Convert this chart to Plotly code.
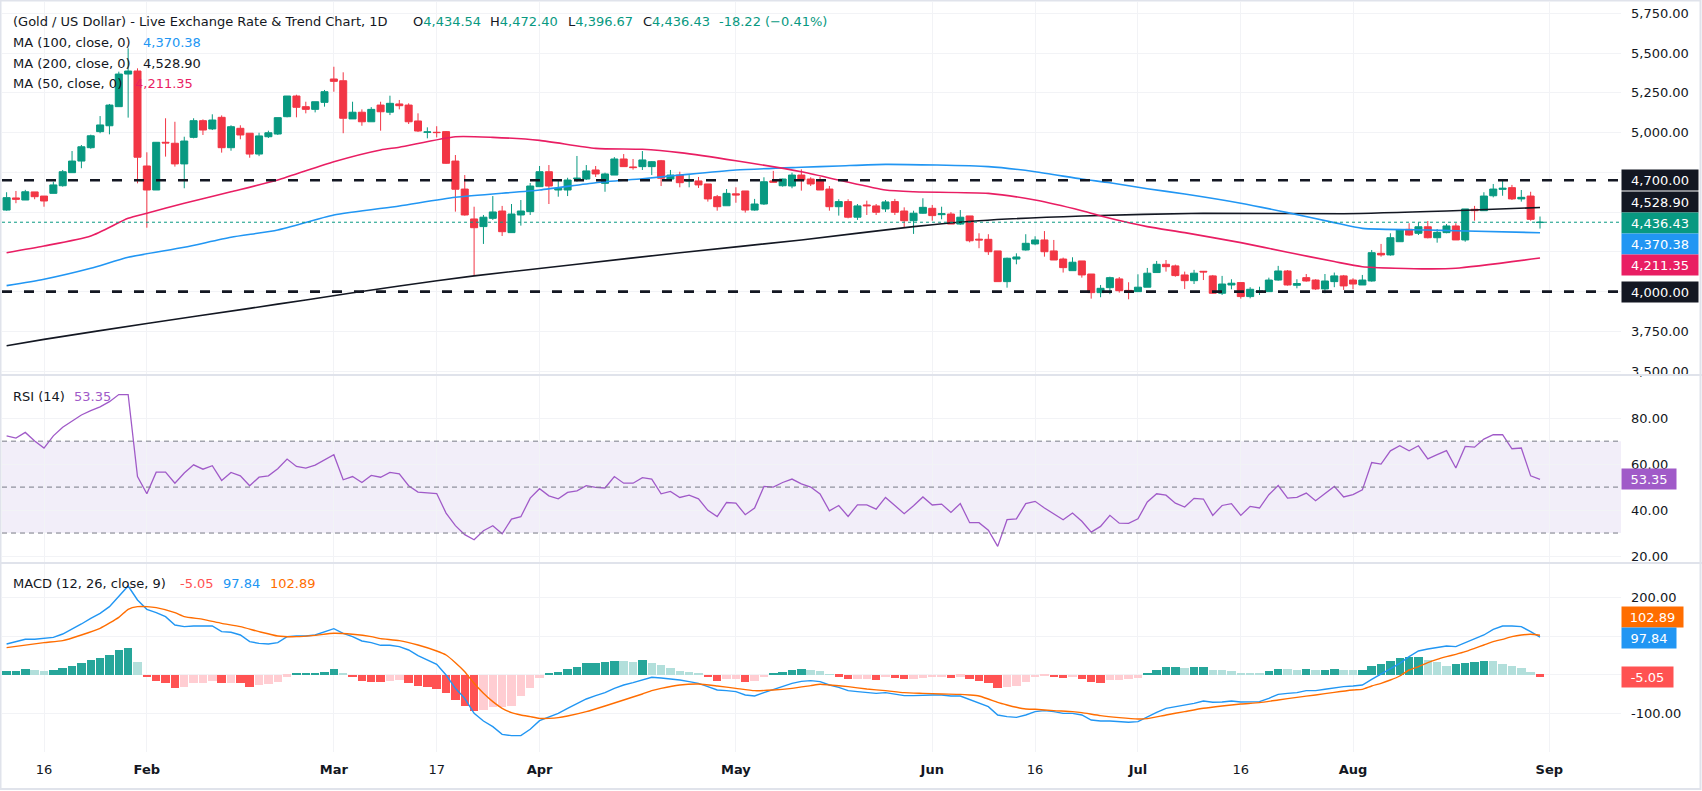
import pandas as pd
import plotly.graph_objects as go

# ---------------- categories (daily bars, 2026) ----------------
_b = pd.bdate_range("2026-01-12", "2026-08-31")
_b = _b[_b != pd.Timestamp("2026-04-03")]          # Good Friday, no bar
dates = [d.strftime("%Y-%m-%d") for d in _b]
future_dates = ["2026-09-01", "2026-09-02", "2026-09-03", "2026-09-04",
                "2026-09-07", "2026-09-08", "2026-09-09", "2026-09-10"]

tick_dates = ["2026-01-16", "2026-02-02", "2026-03-02", "2026-03-17", "2026-04-01",
              "2026-05-01", "2026-06-01", "2026-06-16", "2026-07-01", "2026-07-16",
              "2026-08-03", "2026-09-01"]
tick_text = ["16", "<b>Feb</b>", "<b>Mar</b>", "17", "<b>Apr</b>", "<b>May</b>",
             "<b>Jun</b>", "16", "<b>Jul</b>", "16", "<b>Aug</b>", "<b>Sep</b>"]

price_ticks = [3500, 3750, 4000, 4250, 4500, 4750, 5000, 5250, 5500, 5750]
price_tick_text = ["3,500.00", "3,750.00", "", "", "", "", "5,000.00", "5,250.00", "5,500.00", "5,750.00"]
rsi_ticks = [20, 40, 60, 80]
rsi_tick_text = ["20.00", "40.00", "60.00", "80.00"]
macd_ticks = [-100, 0, 100, 200]
macd_tick_text = ["-100.00", "", "", "200.00"]

# ---------------- OHLC ----------------
open_ = [4513, 4589, 4576, 4627, 4601,
         4618, 4666, 4748, 4821, 4905, 5006, 5043, 5163, 5368, 5387,
         4790, 4639, 4939, 4933, 4803, 4970, 5075, 5023, 5096, 4905,
         5027, 4996, 4865, 4974, 4991, 5100, 5230, 5163, 5146, 5190,
         5337, 5326, 5086, 5128, 5068, 5173, 5128, 5180, 5173, 5073,
         5002, 5002, 5006, 4821, 4645, 4457, 4409, 4461, 4507, 4371,
         4482, 4503, 4660, 4754, 4639, 4639, 4710, 4708, 4765, 4681,
         4733, 4834, 4784, 4786, 4786, 4823, 4708, 4733, 4695, 4696,
         4677, 4597, 4540, 4615, 4633, 4513, 4551, 4696, 4666, 4664,
         4733, 4708, 4698, 4645, 4534, 4566, 4468, 4545, 4539, 4520,
         4566, 4507, 4446, 4493, 4524, 4484, 4488, 4425, 4476, 4330,
         4329, 4256, 4063, 4205, 4262, 4300, 4325, 4256, 4205, 4132,
         4193, 4111, 3994, 4025, 4080, 4008, 4000, 4028, 4120, 4172,
         4162, 4105, 4069, 4128, 4099, 3990, 4042, 4057, 3969, 3996,
         4000, 4073, 4130, 4040, 4088, 4073, 4017, 4063, 4099, 4073,
         4042, 4067, 4241, 4231, 4314, 4392, 4367, 4408, 4339, 4371,
         4413, 4325, 4518, 4509, 4603, 4643, 4654, 4583, 4601, 4434.54]
high = [4625, 4633, 4640, 4627, 4601,
        4691, 4765, 4884, 4922, 4987, 5104, 5180, 5383, 5530, 5404,
        4876, 4939, 5090, 5068, 4974, 5090, 5083, 5115, 5108, 5046,
        5046, 4996, 4999, 5012, 5094, 5230, 5238, 5194, 5194, 5268,
        5414, 5379, 5194, 5146, 5160, 5194, 5232, 5205, 5184, 5121,
        5033, 5040, 5010, 4859, 4733, 4534, 4482, 4601, 4539, 4551,
        4576, 4683, 4790, 4796, 4702, 4716, 4853, 4796, 4790, 4748,
        4846, 4865, 4834, 4884, 4821, 4828, 4765, 4754, 4733, 4721,
        4677, 4608, 4645, 4656, 4633, 4583, 4719, 4759, 4710, 4748,
        4769, 4719, 4721, 4664, 4581, 4581, 4551, 4572, 4551, 4576,
        4583, 4530, 4509, 4587, 4545, 4534, 4500, 4513, 4476, 4367,
        4361, 4256, 4214, 4241, 4361, 4348, 4381, 4325, 4214, 4216,
        4193, 4111, 4042, 4094, 4092, 4059, 4109, 4149, 4193, 4199,
        4170, 4126, 4137, 4130, 4105, 4099, 4078, 4057, 4028, 4031,
        4088, 4162, 4136, 4078, 4111, 4078, 4111, 4120, 4105, 4084,
        4105, 4262, 4300, 4367, 4388, 4430, 4436, 4444, 4394, 4425,
        4430, 4520, 4539, 4625, 4677, 4696, 4671, 4639, 4628, 4472.40]
low = [4509, 4556, 4576, 4581, 4534,
       4618, 4660, 4748, 4776, 4898, 4996, 4989, 5163, 5094, 4681,
       4402, 4639, 4849, 4786, 4650, 4964, 4985, 5016, 4874, 4886,
       4958, 4842, 4852, 4966, 4985, 5096, 5096, 5121, 5127, 5163,
       5257, 4996, 5086, 5043, 5068, 5012, 5110, 5146, 5054, 5004,
       4964, 4970, 4803, 4503, 4478, 4099, 4300, 4451, 4350, 4371,
       4415, 4482, 4660, 4551, 4597, 4601, 4691, 4702, 4721, 4628,
       4733, 4786, 4767, 4765, 4733, 4664, 4708, 4656, 4656, 4652,
       4566, 4509, 4540, 4559, 4497, 4509, 4545, 4688, 4660, 4650,
       4635, 4664, 4639, 4509, 4478, 4461, 4451, 4482, 4482, 4501,
       4482, 4402, 4363, 4490, 4446, 4455, 4425, 4420, 4310, 4273,
       4231, 4063, 4025, 4172, 4258, 4292, 4220, 4199, 4120, 4132,
       4088, 3956, 3965, 3984, 3994, 3952, 4000, 4028, 4120, 4126,
       4094, 4017, 4048, 4073, 3987, 3979, 4015, 3956, 3958, 3979,
       4000, 4069, 4038, 4021, 4063, 4011, 3990, 4028, 4011, 4015,
       4042, 4063, 4220, 4226, 4314, 4352, 4356, 4335, 4308, 4367,
       4325, 4314, 4446, 4509, 4593, 4603, 4576, 4566, 4446, 4396.67]
close = [4591, 4581, 4628, 4597, 4570,
         4671, 4754, 4821, 4911, 4980, 5048, 5173, 5368, 5387, 4845,
         4639, 4939, 4935, 4803, 4947, 5075, 5016, 5079, 4905, 5037,
         4985, 4865, 4979, 4999, 5094, 5230, 5159, 5146, 5194, 5257,
         5322, 5090, 5128, 5068, 5146, 5131, 5184, 5169, 5068, 5010,
         5004, 5000, 4807, 4644, 4482, 4402, 4468, 4501, 4377, 4488,
         4507, 4664, 4754, 4664, 4650, 4702, 4713, 4759, 4740, 4740,
         4834, 4786, 4780, 4828, 4817, 4713, 4733, 4685, 4700, 4671,
         4583, 4534, 4618, 4608, 4513, 4551, 4691, 4688, 4708, 4733,
         4702, 4677, 4639, 4534, 4566, 4468, 4539, 4540, 4499, 4564,
         4499, 4446, 4493, 4530, 4478, 4490, 4425, 4468, 4320, 4325,
         4251, 4063, 4210, 4218, 4304, 4325, 4251, 4199, 4151, 4185,
         4105, 3994, 4021, 4088, 4006, 4004, 4028, 4116, 4172, 4157,
         4101, 4069, 4116, 4124, 3990, 4048, 4053, 3969, 4015, 4004,
         4073, 4130, 4042, 4051, 4067, 4017, 4067, 4099, 4036, 4048,
         4073, 4245, 4231, 4339, 4388, 4356, 4408, 4339, 4373, 4413,
         4325, 4520, 4509, 4601, 4645, 4650, 4583, 4593, 4454.65, 4436.43]

# ---------------- moving averages (read at sampled bars; bar offset k, first bar k=-4) ----------------
ma50_k = [-4, 0, 5, 9, 11, 15, 20, 25, 31, 36, 38, 44, 48, 53, 59, 64, 68, 74, 81, 85,
          90, 93, 101, 106, 111, 114, 118, 122, 128, 133, 138, 141, 148, 151, 160]
ma50_v = [4245, 4287, 4350, 4461, 4493, 4556, 4628, 4702, 4817, 4891, 4908, 4974, 4970,
          4951, 4901, 4895, 4874, 4823, 4754, 4702, 4639, 4628, 4618, 4576, 4509, 4461,
          4409, 4371, 4308, 4248, 4189, 4157, 4143, 4147, 4211.35]
ma100_k = [-4, 0, 5, 9, 15, 20, 25, 31, 38, 44, 53, 59, 64, 68, 74, 81, 85, 90, 101, 106,
           111, 114, 118, 122, 128, 133, 138, 141, 148, 151, 160]
ma100_v = [4038, 4078, 4147, 4216, 4279, 4342, 4388, 4482, 4539, 4593, 4639, 4685, 4710,
           4733, 4765, 4782, 4790, 4800, 4786, 4754, 4708, 4685, 4647, 4614, 4556, 4497,
           4434, 4398, 4388, 4383, 4370.38]
ma200_k = [-4, 0, 11, 22, 28, 38, 46, 57, 68, 81, 93, 100, 111, 124, 139, 150, 160]
ma200_v = [3660, 3700, 3800, 3895, 3948, 4036, 4099, 4172, 4245, 4325, 4409, 4446, 4476,
           4493, 4490, 4507, 4528.90]

# ---------------- RSI (14) ----------------
rsi = [72.3, 71.3, 73.8, 70.1, 67.0,
       72.3, 76.1, 78.8, 81.4, 83.3, 84.9, 87.2, 90.3, 90.3, 54.6,
       47.1, 56.5, 56.5, 51.7, 56.1, 59.7, 57.8, 59.3, 52.9, 56.4,
       54.9, 50.6, 54.3, 54.9, 58.0, 62.2, 59.0, 58.3, 59.6, 61.9,
       64.1, 53.2, 54.6, 52.0, 55.1, 54.3, 56.4, 55.8, 50.6, 47.8,
       47.4, 47.2, 38.7, 33.2, 29.3, 27.1, 31.0, 33.2, 29.7, 36.1,
       37.1, 45.2, 49.3, 46.2, 44.9, 47.7, 48.4, 50.6, 49.9, 49.6,
       54.6, 51.7, 51.7, 54.1, 53.5, 47.1, 48.1, 45.5, 46.5, 44.9,
       39.9, 37.2, 43.3, 43.0, 38.0, 40.9, 50.3, 50.0, 52.0, 53.5,
       51.4, 50.0, 47.0, 39.7, 42.0, 37.2, 42.3, 42.3, 40.4, 45.5,
       42.0, 38.4, 41.9, 45.7, 42.2, 42.6, 39.0, 42.8, 34.5, 34.5,
       31.2, 24.2, 35.8, 36.2, 42.8, 43.8, 40.9, 38.3, 35.8, 38.7,
       35.1, 30.4, 32.9, 37.7, 34.3, 34.2, 36.2, 43.5, 47.1, 46.5,
       43.0, 41.3, 45.1, 44.8, 37.7, 42.0, 42.8, 37.7, 41.6, 40.9,
       46.7, 50.7, 45.2, 45.5, 47.4, 44.1, 47.4, 50.3, 45.7, 46.7,
       48.8, 60.7, 60.0, 65.8, 68.0, 65.8, 68.0, 62.3, 64.1, 65.9,
       58.3, 67.7, 67.4, 70.9, 72.8, 72.8, 66.7, 67.0, 54.9, 53.35]

# ---------------- MACD (12, 26, close, 9) ----------------
macd = [80.1, 86.1, 92.2, 92.2, 93.9,
        97.3, 105.9, 118.0, 131.8, 146.4, 159.3, 176.6, 202.4, 230.0, 193.8,
        169.7, 161.1, 150.7, 129.2, 124.9, 126.6, 126.6, 126.6, 112.0, 110.3,
        103.4, 86.1, 81.8, 80.1, 83.5, 99.1, 100.8, 100.8, 103.4, 112.0,
        119.7, 107.7, 99.1, 87.9, 83.5, 76.7, 76.7, 73.2, 64.6, 50.0,
        38.8, 27.6, 0.0, -34.5, -60.3, -99.1, -118.9, -133.5, -153.3, -156.8,
        -156.8, -140.4, -118.0, -109.4, -99.1, -86.1, -73.2, -62.0, -53.4, -45.6,
        -34.5, -25.8, -19.8, -12.9, -6.0, -7.8, -9.5, -12.9, -17.2, -21.5,
        -30.1, -38.8, -40.5, -43.1, -51.7, -54.3, -45.6, -37.0, -28.4, -21.5,
        -16.4, -14.6, -17.2, -25.8, -31.9, -40.5, -43.1, -44.8, -47.4, -45.6,
        -49.1, -53.4, -53.4, -51.7, -51.7, -51.7, -54.3, -54.3, -62.9, -71.5,
        -81.8, -103.4, -107.7, -109.4, -103.4, -94.7, -92.2, -94.7, -99.1, -99.1,
        -103.4, -116.3, -118.9, -118.9, -120.6, -122.3, -120.6, -107.7, -96.5, -86.1,
        -81.8, -79.2, -73.2, -67.2, -70.6, -69.8, -67.2, -69.8, -69.8, -68.9,
        -60.3, -50.0, -47.4, -45.6, -40.5, -40.5, -37.0, -32.7, -30.1, -28.4,
        -25.8, -11.2, 2.6, 15.5, 30.1, 47.4, 62.0, 67.2, 70.6, 74.9,
        73.2, 83.5, 92.2, 103.4, 118.0, 126.6, 126.6, 124.9, 112.0, 97.84]
signal_k = [-4, 0, 2, 4, 6, 8, 9, 10, 11, 12, 14, 15, 17, 19, 21, 23, 25, 27, 29, 31, 33,
            35, 36, 38, 40, 42, 43, 44, 45, 46, 47, 48, 49, 50, 51, 52, 53, 54, 55, 56, 58,
            60, 62, 64, 65, 66, 68, 70, 72, 74, 76, 78, 80, 82, 83, 84, 86, 88, 90, 92, 94,
            96, 98, 99, 100, 101, 102, 103, 104, 105, 106, 108, 110, 111, 113, 115, 117,
            118, 120, 122, 124, 126, 128, 130, 132, 134, 136, 138, 140, 141, 142, 143, 144,
            145, 146, 147, 148, 149, 150, 151, 152, 153, 154, 155, 156, 157, 158, 159, 160]
signal_v = [70.6, 83.5, 88.7, 103.4, 120.6, 149.0, 169.7, 176.6, 176.6, 174.0, 161.1,
            150.7, 143.8, 133.5, 124.9, 112.0, 100.8, 99.1, 102.5, 107.7, 105.1, 99.1, 93.9,
            88.7, 77.5, 62.0, 51.7, 31.9, 8.6, -21.5, -47.4, -68.9, -86.1, -97.3, -103.4,
            -107.7, -112.0, -112.0, -110.2, -105.9, -94.7, -80.1, -64.6, -49.1, -40.5, -34.5,
            -25.8, -23.3, -28.4, -34.5, -40.5, -38.8, -34.5, -27.6, -24.1, -25.8, -30.1,
            -36.2, -40.5, -45.6, -47.4, -49.1, -50.0, -51.7, -54.3, -62.0, -70.6, -77.5,
            -83.5, -87.9, -88.7, -92.2, -94.7, -97.3, -105.1, -110.2, -113.7, -112.8, -103.4,
            -94.7, -86.1, -80.1, -74.9, -71.5, -64.6, -57.7, -51.7, -44.8, -38.8, -37.0,
            -28.4, -21.5, -12.9, -2.6, 12.9, 21.5, 31.9, 40.5, 47.4, 53.4, 60.3, 68.9, 77.5,
            86.1, 92.2, 99.1, 103.4, 105.1, 102.89]
hist = [10.3, 10.8, 15.5, 12.9, 10.3,
        12.9, 18.9, 24.1, 31.0, 38.8, 43.9, 51.7, 64.6, 70.6, 33.6,
        -6.0, -14.6, -19.8, -32.7, -30.1, -21.5, -19.8, -14.6, -21.5, -19.8,
        -21.5, -30.1, -26.7, -24.1, -17.2, -4.3, 2.6, 3.0, 5.2, 7.8,
        15.5, 2.6, -6.0, -14.6, -17.2, -17.6, -14.6, -14.2, -19.8, -27.6,
        -31.9, -36.2, -45.7, -64.6, -80.1, -92.2, -91.5, -82.5, -81.8, -80.5,
        -54.3, -32.7, -8.6, 2.6, 8.6, 15.5, 21.5, 30.1, 31.9, 32.7,
        37.0, 36.2, 34.5, 37.9, 31.9, 25.0, 18.9, 10.3, 8.6, 3.4,
        -6.0, -14.6, -11.2, -10.3, -17.2, -16.4, -6.0, 3.4, 8.6, 12.9,
        15.5, 13.8, 10.3, 0.9, -4.3, -11.2, -10.3, -9.5, -12.1, -6.0,
        -8.6, -11.2, -9.5, -6.9, -6.0, -5.2, -6.9, -4.3, -11.2, -14.6,
        -19.8, -34.5, -31.9, -27.6, -17.2, -6.0, -2.6, -6.0, -8.6, -6.0,
        -10.3, -18.9, -19.8, -12.9, -12.1, -11.2, -6.9, 2.6, 12.9, 20.7,
        21.5, 18.9, 20.7, 21.5, 12.9, 12.1, 11.2, 5.2, 4.3, 3.4,
        10.3, 15.5, 14.6, 13.8, 15.5, 12.9, 13.8, 15.5, 12.9, 12.1,
        12.9, 23.3, 28.4, 36.2, 43.1, 45.6, 47.4, 38.8, 34.5, 23.3,
        28.4, 30.1, 32.7, 36.2, 35.3, 28.4, 23.3, 17.2, 8.6, -5.05]

# ---------------- styling ----------------
FONT = "DejaVu Sans"
TXT = "#131722"
UP, DN = "#089981", "#F23645"
C_MA50, C_MA100, C_MA200 = "#E91E63", "#2196F3", "#131722"
C_RSI = "#A05AC8"
C_MACD, C_SIG = "#2196F3", "#FF6D00"
GRID = "#F2F3F6"
SEP = "#E0E3EB"

W, H = 1702, 791
PL, PR, PT, PB = 2, 1621, 2, 752


def xp(px):
    return (px - PL) / (PR - PL)


def yp(py):
    return (PB - py) / (PB - PT)


def kx(ks):
    return [dates[k + 4] for k in ks]


hist_colors = []
for i, h in enumerate(hist):
    prev = hist[i - 1] if i > 0 else h - 1
    if h >= 0:
        hist_colors.append("#26A69A" if h > prev else "#B2DFDB")
    else:
        hist_colors.append("#FF5252" if h < prev else "#FFCDD2")

fig = go.Figure()

fig.add_trace(go.Candlestick(
    x=dates, open=open_, high=high, low=low, close=close,
    increasing=dict(line=dict(color=UP, width=1), fillcolor=UP),
    decreasing=dict(line=dict(color=DN, width=1), fillcolor=DN),
    xaxis="x", yaxis="y", showlegend=False, hoverinfo="skip"))

for ks, vs, col in [(ma200_k, ma200_v, C_MA200), (ma100_k, ma100_v, C_MA100),
                    (ma50_k, ma50_v, C_MA50)]:
    fig.add_trace(go.Scatter(x=kx(ks), y=vs, mode="lines",
                             line=dict(color=col, width=1.6, shape="spline", smoothing=0.6),
                             xaxis="x", yaxis="y", showlegend=False, hoverinfo="skip"))

fig.add_trace(go.Scatter(x=dates, y=rsi, mode="lines", line=dict(color=C_RSI, width=1.3),
                         xaxis="x", yaxis="y2", showlegend=False, hoverinfo="skip"))

fig.add_trace(go.Bar(x=dates, y=hist, marker=dict(color=hist_colors, line=dict(width=0)),
                     width=0.9, xaxis="x", yaxis="y3", showlegend=False, hoverinfo="skip"))
fig.add_trace(go.Scatter(x=dates, y=macd, mode="lines", line=dict(color=C_MACD, width=1.4),
                         xaxis="x", yaxis="y3", showlegend=False, hoverinfo="skip"))
fig.add_trace(go.Scatter(x=kx(signal_k), y=signal_v, mode="lines",
                         line=dict(color=C_SIG, width=1.4, shape="spline", smoothing=0.5),
                         xaxis="x", yaxis="y3", showlegend=False, hoverinfo="skip"))

# ---------------- shapes ----------------
shapes = []
shapes.append(dict(type="rect", xref="paper", yref="y2", x0=0, x1=1, y0=30, y1=70,
                   fillcolor="rgba(126,87,194,0.1)", line=dict(width=0), layer="below"))
for lv in (70, 50, 30):
    shapes.append(dict(type="line", xref="paper", yref="y2", x0=0, x1=1, y0=lv, y1=lv,
                       line=dict(color="#787B86", width=1, dash="5px,4px"), layer="above"))
for lv in (4700, 4000):
    shapes.append(dict(type="line", xref="paper", yref="y", x0=0, x1=1, y0=lv, y1=lv,
                       line=dict(color=TXT, width=2.6, dash="10px,12px"), layer="above"))
shapes.append(dict(type="line", xref="paper", yref="y", x0=0, x1=1, y0=close[-1], y1=close[-1],
                   line=dict(color=UP, width=1, dash="dot"), layer="above"))
for py in (375, 563):
    shapes.append(dict(type="line", xref="paper", yref="paper", x0=xp(0), x1=xp(W),
                       y0=yp(py), y1=yp(py), line=dict(color=SEP, width=2), layer="above"))
shapes.append(dict(type="rect", xref="paper", yref="paper", x0=xp(0.5), x1=xp(W - 1.5),
                   y0=yp(H - 2), y1=yp(0.5), line=dict(color=SEP, width=2),
                   fillcolor="rgba(0,0,0,0)", layer="above"))

# ---------------- annotations ----------------
anns = []


def label(text, px, py, color=TXT, size=13):
    anns.append(dict(text=text, xref="paper", yref="paper", x=xp(px), y=yp(py),
                     xanchor="left", yanchor="middle", showarrow=False,
                     font=dict(family=FONT, size=size, color=color)))


def box(text, py, bg, wpx):
    anns.append(dict(text=text, xref="paper", yref="paper", x=1, y=yp(py),
                     xanchor="left", yanchor="middle", showarrow=False,
                     width=wpx - 4, height=16, borderpad=2, align="center",
                     bgcolor=bg, font=dict(family=FONT, size=13, color="white")))


g = UP
chg = close[-1] - close[-2]
pct = chg / close[-2] * 100
label("(Gold / US Dollar) - Live Exchange Rate &amp; Trend Chart, 1D", 11, 22)
label(f"O<span style='color:{g}'>{open_[-1]:,.2f}</span>", 410.7, 22)
label(f"H<span style='color:{g}'>{high[-1]:,.2f}</span>", 488, 22)
label(f"L<span style='color:{g}'>{low[-1]:,.2f}</span>", 566, 22)
label(f"C<span style='color:{g}'>{close[-1]:,.2f}</span>", 641, 22)
label(f"{chg:+.2f} ({pct:+.2f}%)".replace("(-", "(\u2212"), 717, 22, color=g)

label("MA (100, close, 0)", 11, 42.3)
label(f"{ma100_v[-1]:,.2f}", 141, 42.3, C_MA100)
label("MA (200, close, 0)", 11, 63)
label(f"{ma200_v[-1]:,.2f}", 141, 63, TXT)
label("MA (50, close, 0)", 11, 83.3)
label(f"{ma50_v[-1]:,.2f}", 133, 83.3, C_MA50)

label("RSI (14)", 11, 396)
label(f"{rsi[-1]:.2f}", 72, 396, C_RSI)

label("MACD (12, 26, close, 9)", 11, 583.3)
label(f"{hist[-1]:.2f}", 178, 583.3, "#FF5252")
label(f"{macd[-1]:.2f}", 221, 583.3, C_MACD)
label(f"{signal_v[-1]:.2f}", 268, 583.3, C_SIG)

box("4,700.00", 180.3, TXT, 76)
box(f"{ma200_v[-1]:,.2f}", 201.7, TXT, 76)
box(f"{close[-1]:,.2f}", 223.3, UP, 76)
box(f"{ma100_v[-1]:,.2f}", 244.3, C_MA100, 76)
box(f"{ma50_v[-1]:,.2f}", 265.3, C_MA50, 76)
box("4,000.00", 292, TXT, 76)
box(f"{rsi[-1]:.2f}", 479.3, C_RSI, 54)
box(f"{signal_v[-1]:.2f}", 616.7, C_SIG, 61)
box(f"{macd[-1]:.2f}", 637.7, C_MACD, 54)
box(f"{hist[-1]:.2f}", 677.3, "#FF5252", 51)

# ---------------- axes ----------------
n_left = (PL - 6.6) / 9.35
n_right = (PR - 6.6) / 9.35
tickfont = dict(family=FONT, size=13, color=TXT)

yaxis_common = dict(side="right", anchor="x", showgrid=True, gridcolor=GRID, gridwidth=1,
                    zeroline=False, showline=False, ticks="", tickfont=tickfont,
                    ticklabelstandoff=9, fixedrange=True, tickmode="array")

fig.update_layout(
    width=W, height=H,
    margin=dict(l=PL, r=W - PR, t=PT, b=H - PB, pad=0),
    paper_bgcolor="white", plot_bgcolor="white",
    showlegend=False, boxgap=0.25, boxgroupgap=0, bargap=0,
    font=dict(family=FONT, size=13, color=TXT),
    xaxis=dict(type="category", categoryorder="array", categoryarray=dates + future_dates,
               range=[n_left, n_right], anchor="y3", rangeslider=dict(visible=False),
               tickmode="array", tickvals=tick_dates, ticktext=tick_text,
               showgrid=True, gridcolor=GRID, gridwidth=1, zeroline=False, showline=False,
               ticks="", tickfont=tickfont, ticklabelstandoff=8, fixedrange=True),
    yaxis=dict(domain=[yp(375), 1], range=[3476, 5821],
               tickvals=price_ticks, ticktext=price_tick_text, **yaxis_common),
    yaxis2=dict(domain=[yp(563), yp(375)], range=[16.96, 98.8],
                tickvals=rsi_ticks, ticktext=rsi_tick_text, **yaxis_common),
    yaxis3=dict(domain=[0, yp(563)], range=[-199, 289.4],
                tickvals=macd_ticks, ticktext=macd_tick_text, **yaxis_common),
    shapes=shapes, annotations=anns,
)

fig.write_html("out.html", config={"displayModeBar": False},
               post_script="document.body.style.margin='0';document.body.style.overflow='hidden';")
